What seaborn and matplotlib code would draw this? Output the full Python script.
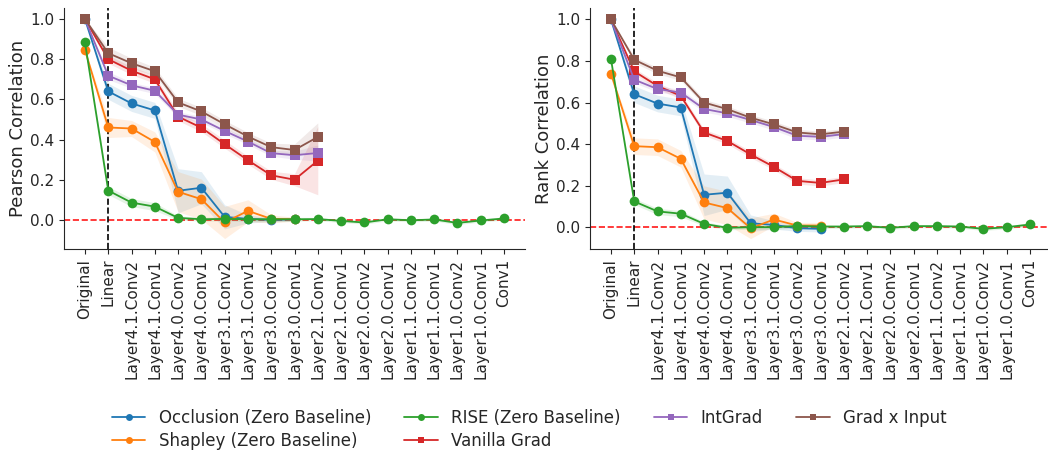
import numpy as np
import pandas as pd
import matplotlib
matplotlib.use("Agg")
import matplotlib.pyplot as plt
import seaborn as sns

layers = ["Original", "Linear", "Layer4.1.Conv2", "Layer4.1.Conv1", "Layer4.0.Conv2",
          "Layer4.0.Conv1", "Layer3.1.Conv2", "Layer3.1.Conv1", "Layer3.0.Conv2",
          "Layer3.0.Conv1", "Layer2.1.Conv2", "Layer2.1.Conv1", "Layer2.0.Conv2",
          "Layer2.0.Conv1", "Layer1.1.Conv2", "Layer1.1.Conv1", "Layer1.0.Conv2",
          "Layer1.0.Conv1", "Conv1"]

methods = ["Occlusion (Zero Baseline)", "Shapley (Zero Baseline)", "RISE (Zero Baseline)",
           "Vanilla Grad", "IntGrad", "Grad x Input"]

# Pearson correlation (left panel)
occlusion_pearson = [1.0, 0.64, 0.58, 0.545, 0.145, 0.16, 0.015, 0.005, 0.0, 0.003]
shapley_pearson = [0.846, 0.46, 0.455, 0.388, 0.14, 0.103, -0.013, 0.045, 0.005, 0.003]
rise_pearson = [0.884, 0.146, 0.086, 0.066, 0.01, 0.003, 0.005, 0.003, 0.003, 0.003,
                0.004, -0.005, -0.013, 0.003, -0.002, 0.002, -0.015, -0.003, 0.007]
vanilla_pearson = [1.0, 0.80, 0.743, 0.70, 0.514, 0.459, 0.377, 0.297, 0.222, 0.20, 0.295]
intgrad_pearson = [1.0, 0.718, 0.67, 0.643, 0.524, 0.50, 0.443, 0.39, 0.332, 0.322, 0.333]
gradinput_pearson = [1.0, 0.83, 0.78, 0.74, 0.585, 0.54, 0.476, 0.415, 0.362, 0.348, 0.413]

occlusion_pearson_err = [0, 0.04, 0.04, 0.04, 0.11, 0.08, 0.06, 0.02, 0.01, 0.01]
shapley_pearson_err = [0, 0.05, 0.04, 0.05, 0.10, 0.10, 0.08, 0.055, 0.02, 0.01]
rise_pearson_err = [0, 0.02, 0.02, 0.02, 0.01, 0.01, 0.01, 0.01, 0.01, 0.01,
                    0.008, 0.008, 0.008, 0.008, 0.008, 0.008, 0.008, 0.008, 0.008]
vanilla_pearson_err = [0, 0.02, 0.02, 0.02, 0.02, 0.02, 0.02, 0.02, 0.02, 0.03, 0.17]
intgrad_pearson_err = [0, 0.02, 0.015, 0.015, 0.015, 0.015, 0.015, 0.015, 0.015, 0.02, 0.04]
gradinput_pearson_err = [0, 0.03, 0.025, 0.02, 0.02, 0.02, 0.02, 0.02, 0.02, 0.03, 0.07]

# Rank correlation (right panel)
occlusion_rank = [1.0, 0.64, 0.595, 0.576, 0.156, 0.166, 0.019, 0.011, -0.005, -0.008]
shapley_rank = [0.739, 0.39, 0.385, 0.329, 0.119, 0.092, -0.005, 0.037, 0.008, 0.008]
rise_rank = [0.81, 0.124, 0.076, 0.065, 0.016, -0.003, 0.0, 0.0, 0.006, 0.003,
             0.003, 0.005, -0.003, 0.005, 0.005, 0.003, -0.008, 0.0, 0.013]
vanilla_rank = [1.0, 0.75, 0.68, 0.632, 0.456, 0.415, 0.35, 0.29, 0.223, 0.213, 0.23]
intgrad_rank = [1.0, 0.71, 0.665, 0.648, 0.569, 0.548, 0.516, 0.482, 0.44, 0.435, 0.448]
gradinput_rank = [1.0, 0.806, 0.753, 0.721, 0.60, 0.568, 0.527, 0.495, 0.456, 0.447, 0.46]

occlusion_rank_err = [0, 0.04, 0.04, 0.04, 0.10, 0.08, 0.04, 0.02, 0.015, 0.015]
shapley_rank_err = [0, 0.04, 0.04, 0.04, 0.08, 0.08, 0.05, 0.03, 0.015, 0.015]
rise_rank_err = [0, 0.015, 0.015, 0.015, 0.01, 0.01, 0.01, 0.01, 0.01, 0.01,
                 0.008, 0.008, 0.008, 0.008, 0.008, 0.008, 0.008, 0.008, 0.008]
vanilla_rank_err = [0, 0.015, 0.015, 0.015, 0.015, 0.015, 0.015, 0.015, 0.015, 0.015, 0.015]
intgrad_rank_err = [0, 0.015, 0.015, 0.015, 0.015, 0.015, 0.015, 0.015, 0.015, 0.015, 0.015]
gradinput_rank_err = [0, 0.015, 0.015, 0.015, 0.015, 0.015, 0.015, 0.015, 0.015, 0.015, 0.015]

pearson = {
    methods[0]: (occlusion_pearson, occlusion_pearson_err),
    methods[1]: (shapley_pearson, shapley_pearson_err),
    methods[2]: (rise_pearson, rise_pearson_err),
    methods[3]: (vanilla_pearson, vanilla_pearson_err),
    methods[4]: (intgrad_pearson, intgrad_pearson_err),
    methods[5]: (gradinput_pearson, gradinput_pearson_err),
}
rank = {
    methods[0]: (occlusion_rank, occlusion_rank_err),
    methods[1]: (shapley_rank, shapley_rank_err),
    methods[2]: (rise_rank, rise_rank_err),
    methods[3]: (vanilla_rank, vanilla_rank_err),
    methods[4]: (intgrad_rank, intgrad_rank_err),
    methods[5]: (gradinput_rank, gradinput_rank_err),
}


def build_frame(table):
    rows = []
    for m in methods:
        vals, errs = table[m]
        for i, (v, e) in enumerate(zip(vals, errs)):
            for s in (-1, 0, 1):
                rows.append({"layer": layers[i], "value": v + s * e, "method": m})
    df = pd.DataFrame(rows)
    df["layer"] = pd.Categorical(df["layer"], categories=layers, ordered=True)
    return df


sns.set_style("ticks")
plt.rcParams["font.family"] = ["DejaVu Sans"]

palette = dict(zip(methods, sns.color_palette("tab10", 6)))
markers = {methods[0]: "o", methods[1]: "o", methods[2]: "o",
           methods[3]: "s", methods[4]: "s", methods[5]: "s"}

fig = plt.figure(figsize=(10.48, 4.55), dpi=100)
ax1 = fig.add_axes([64 / 1048, 1 - 249 / 455, 461 / 1048, 241 / 455])
ax2 = fig.add_axes([590 / 1048, 1 - 249 / 455, 461 / 1048, 241 / 455])

for ax, table, ylabel, ylim in [(ax1, pearson, "Pearson Correlation", (-0.145, 1.055)),
                                 (ax2, rank, "Rank Correlation", (-0.105, 1.055))]:
    df = build_frame(table)
    sns.lineplot(data=df, x="layer", y="value", hue="method", style="method",
                 hue_order=methods, style_order=methods, palette=palette,
                 markers=markers, dashes=False, estimator="median",
                 errorbar=("pi", 100), err_kws={"alpha": 0.12, "linewidth": 0},
                 markersize=7, markeredgewidth=0, linewidth=1.3, ax=ax,
                 legend=(ax is ax1))
    ax.axhline(0, color="red", linestyle="--", linewidth=1.2, alpha=0.9, zorder=0.5)
    ax.axvline(1, color="black", linestyle="--", linewidth=1.2, zorder=0.5)
    ax.set_xlim(-0.9, 18.9)
    ax.set_ylim(*ylim)
    ax.set_yticks([0.0, 0.2, 0.4, 0.6, 0.8, 1.0])
    ax.set_xlabel("")
    ax.set_ylabel(ylabel, fontsize=13, labelpad=2)
    ax.tick_params(axis="x", rotation=90, labelsize=11)
    ax.tick_params(axis="y", labelsize=11)
    sns.despine(ax=ax)

handles, labels = ax1.get_legend_handles_labels()
ax1.get_legend().remove()
for h in handles:
    h.set_markersize(5)
fig.legend(handles, labels, loc="center", ncol=4, frameon=False, fontsize=12,
           bbox_to_anchor=(0.505, 1 - 429.5 / 455), labelspacing=0.3)

fig.savefig("out.png", dpi=100)
